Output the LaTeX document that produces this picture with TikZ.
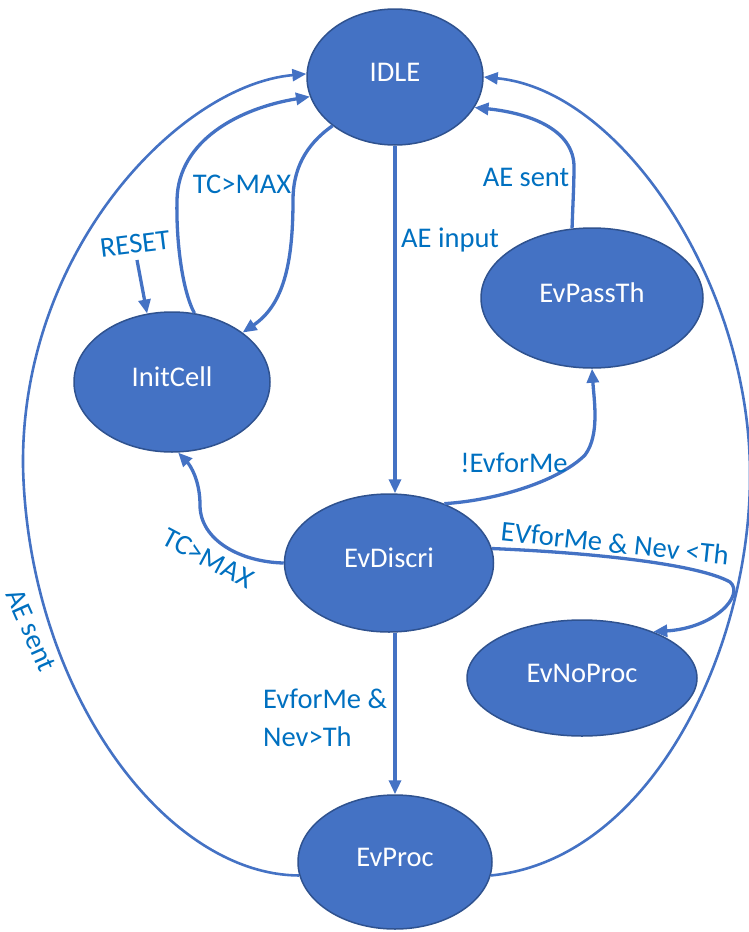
\documentclass[tikz,border=0pt]{standalone}
\usepackage{fontspec}
\setmainfont{Carlito}
\usetikzlibrary{shapes.geometric,arrows.meta}
\definecolor{lineblue}{HTML}{4472C4}
\definecolor{fillblue}{HTML}{4472C4}
\definecolor{borderblue}{HTML}{2F528F}
\definecolor{labelblue}{HTML}{0070C0}
\begin{document}
\begin{tikzpicture}[x=1pt,y=-1pt,
  state/.style={ellipse, draw=borderblue, line width=1.5pt, fill=fillblue, text=white, font=\fontsize{28.5}{34}\selectfont, inner sep=0pt, text height=20pt, text depth=12pt},
  conn/.style={draw=lineblue, line width=3.3pt, -{Triangle[length=14pt,width=12pt]}},
  outerconn/.style={draw=lineblue, line width=2.6pt, -{Triangle[length=14pt,width=12pt]}},
  lbl/.style={text=labelblue, font=\fontsize{28.5}{38}\selectfont, inner sep=0pt}]
\useasboundingbox (0,0) rectangle (748,932);

% states
\node[state, minimum width=176pt, minimum height=136pt] (idle) at (395,77) {IDLE};
\node[state, minimum width=196pt, minimum height=140pt] (init) at (172,382) {InitCell};
\node[state, minimum width=222pt, minimum height=140pt] (pass) at (592,298) {EvPassTh};
\node[state, minimum width=209pt, minimum height=138pt] (discri) at (389,563) {EvDiscri};
\node[state, minimum width=230pt, minimum height=116pt] (noproc) at (582,678) {EvNoProc};
\node[state, minimum width=194pt, minimum height=134pt] (proc) at (395,862) {EvProc};

% outer left: EvProc -> IDLE
\draw[outerconn] (proc.188) .. controls (165,875) and (28,690) .. (23,466)
  .. controls (21,250) and (180,85) .. (idle.178);
% outer right: EvProc -> IDLE
\draw[outerconn] (proc.-8) .. controls (650,860) and (752,650) .. (750,470)
  .. controls (748,280) and (620,90) .. (idle.0);

% InitCell -> IDLE
\draw[conn] (init.72) .. controls (182,290) and (176,240) .. (177,200)
  .. controls (178,140) and (240,108) .. (idle.193);
% IDLE -> InitCell
\draw[conn] (idle.218) .. controls (305,145) and (293,170) .. (293,200)
  .. controls (293,265) and (283,305) .. (init.35);
% RESET
\coordinate (rs) at (137,260);
\draw[conn] (rs) -- (init.110);

% IDLE -> EvDiscri
\draw[conn] (idle.south) -- (idle.south |- discri.north);
% EvPassTh -> IDLE
\draw[conn] (pass.106) .. controls (573,200) and (574,185) .. (574,165)
  .. controls (572,125) and (520,112) .. (idle.-21);
% EvDiscri -> EvPassTh
\draw[conn] (discri.47) .. controls (500,500) and (560,480) .. (585,455)
  .. controls (600,435) and (594,400) .. (pass.south);
% EvDiscri -> InitCell
\draw[conn] (discri.west) .. controls (240,562) and (200,540) .. (200,505)
  .. controls (200,480) and (190,465) .. (init.-85);
% EvDiscri -> EvNoProc
\draw[conn] (discri.8) .. controls (600,553) and (700,565) .. (730,582)
  .. controls (745,595) and (715,628) .. (noproc.33);
% EvDiscri -> EvProc
\draw[conn] (proc.north |- discri.south) -- (proc.north);

% labels
\node[lbl, anchor=west] (lAEin) at (401,240) {AE input};
\node[lbl] (lTCa) at (242,184) {TC>MAX};
\node[lbl, rotate=7] (lRESET) at (135,244) {RESET};
\node[lbl] (lAEsa) at (526,177) {AE sent};
\node[lbl] (lnot) at (514,463) {!EvforMe};
\node[lbl, rotate=-28] (lTCb) at (208,558) {TC>MAX};
\node[lbl, rotate=-6] (lnev) at (615,543) {EVforMe \& Nev <Th};
\node[lbl, align=left, anchor=north west] (lproc) at (263,689) {EvforMe \&\\Nev>Th};
\node[lbl, rotate=-66] (lAEsb) at (31,630) {AE sent};
\end{tikzpicture}
\end{document}
